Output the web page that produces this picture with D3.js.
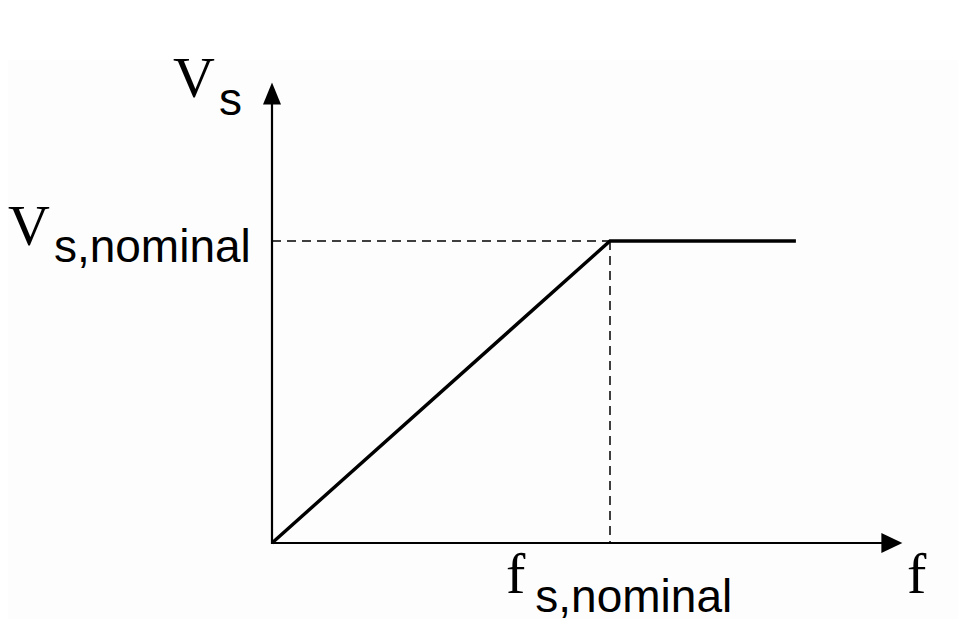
<!DOCTYPE html>
<html>
<head>
<meta charset="utf-8">
<script src="https://cdn.jsdelivr.net/npm/d3@7"></script>
<style>
  html, body { margin: 0; padding: 0; background: #ffffff; }
  svg { display: block; }
</style>
</head>
<body>
<svg id="chart" width="967" height="642"></svg>
<script>
// ---- data (normalised units: nominal frequency = 1, nominal voltage = 1) ----
const curveF = [0, 1, 1.55];       // frequency breakpoints
const curveV = [0, 1, 1];          // stator voltage at breakpoints
const fNominal = 1;
const vNominal = 1;
const fAxisMax = 1.865;
const vAxisMax = 1.525;
const axisLabels = { x: "f", y: "V", ySub: "s" };
const tickLabels = [
  { main: "V", sub: "s,nominal" },
  { main: "f", sub: "s,nominal" }
];

const svg = d3.select("#chart");
svg.append("rect").attr("x", 8).attr("y", 60).attr("width", 950).attr("height", 559)
  .attr("fill", "#fdfdfd");

const x = d3.scaleLinear().domain([0, 1]).range([272, 610]);
const y = d3.scaleLinear().domain([0, 1]).range([543, 241]);

const serif = "'Liberation Serif', 'Times New Roman', serif";
const sans = "'Liberation Sans', Arial, sans-serif";

// dashed guides
svg.append("line")
  .attr("x1", x(0)).attr("x2", x(fNominal))
  .attr("y1", y(vNominal)).attr("y2", y(vNominal))
  .attr("stroke", "#000").attr("stroke-width", 1.5).attr("stroke-dasharray", "9,6");
svg.append("line")
  .attr("x1", x(fNominal)).attr("x2", x(fNominal))
  .attr("y1", y(vNominal)).attr("y2", y(0))
  .attr("stroke", "#000").attr("stroke-width", 1.5).attr("stroke-dasharray", "9,6");

// axes with arrowheads
svg.append("line")
  .attr("x1", x(0)).attr("x2", x(fAxisMax) - 18)
  .attr("y1", y(0)).attr("y2", y(0))
  .attr("stroke", "#000").attr("stroke-width", 2.2);
svg.append("line")
  .attr("x1", x(0)).attr("x2", x(0))
  .attr("y1", y(0) + 1).attr("y2", y(vAxisMax) + 18)
  .attr("stroke", "#000").attr("stroke-width", 2.2);

const tipX = x(fAxisMax), yAx = y(0);
svg.append("path")
  .attr("d", `M${tipX},${yAx} L${tipX - 21},${yAx - 10} L${tipX - 21},${yAx + 10} Z`)
  .attr("fill", "#000");
const tipY = y(vAxisMax), xAx = x(0);
svg.append("path")
  .attr("d", `M${xAx},${tipY} L${xAx - 9},${tipY + 22} L${xAx + 9},${tipY + 22} Z`)
  .attr("fill", "#000");

// V/f curve
const pts = curveF.map((f, i) => [f, curveV[i]]);
svg.append("path")
  .datum(pts)
  .attr("d", d3.line().x(d => x(d[0])).y(d => y(d[1])))
  .attr("fill", "none").attr("stroke", "#000").attr("stroke-width", 3.4)
  .attr("stroke-linejoin", "miter");

// labels
function label(xPos, yPos, main, sub, subDx, subDy) {
  const t = svg.append("text").attr("x", xPos).attr("y", yPos).attr("fill", "#000");
  t.append("tspan").attr("font-family", serif).attr("font-size", 58).text(main);
  if (sub) {
    t.append("tspan").attr("font-family", sans).attr("font-size", 46)
      .attr("dx", subDx).attr("dy", subDy).text(sub);
  }
  return t;
}
// y-axis title
label(173, 97, axisLabels.y, axisLabels.ySub, 4, 18);
// x-axis title
label(907, 593, axisLabels.x, null);
// V_s,nominal at the y level
label(8, 245, tickLabels[0].main, tickLabels[0].sub, 4, 17);
// f_s,nominal at the x level
label(506, 593, tickLabels[1].main, tickLabels[1].sub, 10, 19);
</script>
</body>
</html>
